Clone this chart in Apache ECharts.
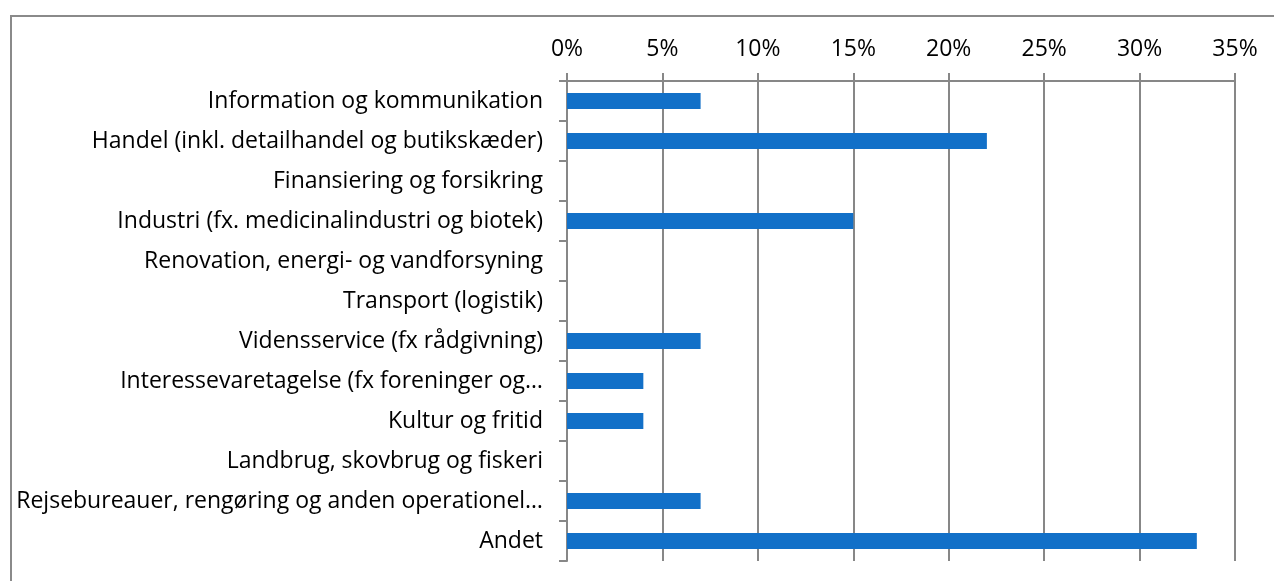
<!DOCTYPE html>
<html lang="da">
  <head>
    <meta charset="UTF-8" />
    <title>Brancher</title>
    <script src="https://cdn.jsdelivr.net/npm/echarts@6/dist/echarts.min.js"></script>
    <style>
      html, body { margin: 0; padding: 0; background: #fff; }
    </style>
  </head>
  <body>
    <div id="main" style="width: 1274px; height: 581px"></div>
    <script type="text/javascript">
      const categories = [
        "Information og kommunikation",
        "Handel (inkl. detailhandel og butikskæder)",
        "Finansiering og forsikring",
        "Industri (fx. medicinalindustri og biotek)",
        "Renovation, energi- og vandforsyning",
        "Transport (logistik)",
        "Vidensservice (fx rådgivning)",
        "Interessevaretagelse (fx foreninger og…",
        "Kultur og fritid",
        "Landbrug, skovbrug og fiskeri",
        "Rejsebureauer, rengøring og anden operationel…",
        "Andet",
      ];
      const shares = [7, 22, 0, 15, 0, 0, 7, 4, 4, 0, 7, 33];

      const font = "Open Sans";
      const grey = "#878787";

      let myChart = echarts.init(document.getElementById("main"));
      myChart.setOption({
        animation: false,
        graphic: [
          {
            type: "rect",
            shape: { x: 11, y: 16, width: 1300, height: 600 },
            style: { fill: "none", stroke: "#8a8a8a", lineWidth: 2 },
          },
        ],
        grid: { left: 567, right: 39, top: 81, bottom: 20 },
        xAxis: {
          type: "value",
          position: "top",
          min: 0,
          max: 35,
          interval: 5,
          axisLine: { show: true, lineStyle: { color: grey, width: 2 } },
          axisTick: { show: true, length: 8, lineStyle: { color: grey, width: 2 } },
          splitLine: { show: true, lineStyle: { color: grey, width: 2 } },
          axisLabel: {
            formatter: "{value}%",
            fontFamily: font,
            fontSize: 23,
            color: "#000",
            margin: 20,
          },
        },
        yAxis: {
          type: "category",
          inverse: true,
          data: categories,
          axisLine: { show: true, lineStyle: { color: grey, width: 2 } },
          axisTick: { show: true, length: 8, lineStyle: { color: grey, width: 2 } },
          axisLabel: {
            fontFamily: font,
            fontSize: 23,
            color: "#000",
            margin: 24,
            padding: [3, 0, 0, 0],
          },
        },
        series: [
          {
            name: "Andel",
            type: "bar",
            data: shares,
            barWidth: 16,
            itemStyle: { color: "#1270c8" },
          },
        ],
      });
    </script>
  </body>
</html>
